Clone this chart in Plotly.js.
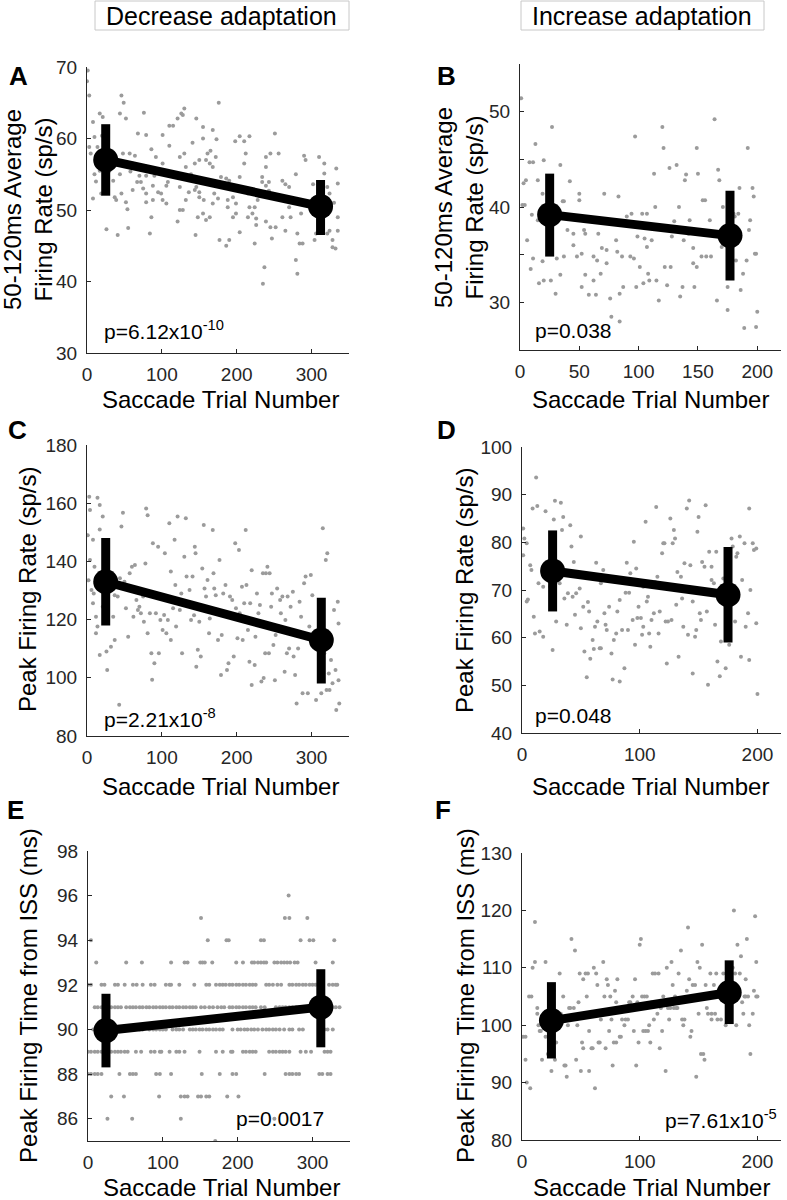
<!DOCTYPE html>
<html>
<head>
<meta charset="utf-8">
<script src="https://cdn.plot.ly/plotly-3.0.1.min.js"></script>
<style>
  body { margin: 0; background: #fff; }
  #chart { width: 787px; height: 1200px; }
</style>
</head>
<body>
<div id="chart"></div>
<script>
// ---- data ----

// A: 50-120ms average firing rate, decrease adaptation
const aPoints = [
  [1,69.5],[0,68],[3,66],[17,63.5],[21,63],[46,66],[49,65],[44,63.5],[52,62.8],[76,63.6],
  [126,63.5],[130,64.2],[121,62.8],[128,63.3],[176,65],[146,62.8],[155,61.6],[110,61.8],[115,61.8],[101,60.5],
  [68,60.7],[79,60.5],[168,61.2],[204,60.3],[217,60.3],[198,59.6],[210,59.6],[173,59.9],[141,59.4],[155,60],
  [251,60.7],[8,62.3],[10,60.2],[14,58.8],[3,58.8],[5,57.9],[12,57],[10,55],[12,54],[8,51.6],
  [26,47.3],[41,46.5],[55,47.5],[54,50.1],[39,51.4],[37,51.8],[46,52.3],[35,54.1],[44,55],[48,57.9],
  [57,57.9],[64,57.6],[61,56.5],[66,56],[70,54.8],[67,53.9],[72,53.9],[75,53],[79,52.3],[79,51.1],
  [85,55.8],[86,58.5],[92,57.4],[88,53.4],[86,49],[84,46.7],[95,52.5],[99,52.3],[101,51.4],[106,50.9],
  [101,56.5],[110,59],[115,55],[108,53.9],[124,53.2],[121,48.4],[124,50],[128,50],[132,51.4],[136,52.5],
  [139,55],[144,56.5],[150,57],[159,57],[164,56.5],[161,57.9],[165,58.3],[172,57.4],[168,56],[150,54.4],
  [146,53.2],[144,52.8],[150,51.8],[156,51.4],[155,49.5],[159,48.6],[148,49],[145,46.5],[170,52.3],[175,51.6],
  [179,54.6],[186,54.4],[181,53.2],[190,54.1],[188,51.4],[188,50.4],[195,51.8],[199,50.9],[204,54.6],[204,53.2],
  [210,56.5],[212,57.9],[215,52.3],[217,50.4],[221,49.5],[226,48.8],[224,50.4],[215,49],[230,52],[234,53.9],
  [239,53.4],[243,53.9],[243,52.7],[239,57.4],[245,57.9],[239,56],[234,54.6],[228,51.4],[226,47.9],[224,45.3],
  [239,48.4],[245,47.6],[247,46],[252,47.6],[256,57.9],[261,54.1],[265,53.6],[270,53.2],[263,51.4],[270,50.4],
  [261,49],[265,47.1],[272,49],[279,55],[284,51.4],[286,49.5],[281,46.7],[284,45.3],[288,45.3],[290,57.6],
  [292,57],[302,53.6],[306,46.7],[304,45.8],[310,57.4],[317,56.5],[317,55.1],[321,53.2],[324,52.3],[321,46.7],
  [324,47.1],[328,45.8],[332,44.6],[328,44.8],[335,47.1],[335,49],[335,53.7],[333,55.8],[330,51],[317,50],
  [235,39.7],[237,42],[279,43],[281,41.1],[177,45.8],[186,45],[190,45.8],[199,49.5],[204,46.9],[24,56],
  [30,55.5],[17,55.5],[26,53.2],[19,52.3],[79,54.8],[90,54.8],[124,57.4],[130,57.9],[132,56],[150,52.5],
  [88,51.4],[106,53.4],[52,51.1],[61,52.8],[164,49],[168,50.9],[195,49],[31,58.2],[20,60.4],[58,55.4]
];
const aMeanTrial = [25, 312];
const aMean = [57, 50.5];
const aHigh = [62, 54.2];
const aLow = [52, 46.5];

// B: 50-120ms average firing rate, increase adaptation
const bPoints = [
  [1,51.4],[5,42.8],[3,42.5],[2,40.2],[4,40.2],[6,36.5],[9,33.5],[11,34.6],[10,39.2],[8,44.7],
  [11,44.7],[13,46.6],[15,42.8],[15,38.6],[19,34.3],[16,32],[20,32.3],[20,44.9],[19,41.4],[27,48.4],
  [26,32.3],[30,30.9],[31,34.6],[34,32.9],[34,44.4],[36,40.6],[37,40.6],[37,34.8],[40,37.6],[42,42.7],
  [45,37.2],[45,36],[48,34.8],[50,41.4],[50,40.7],[54,37.6],[55,37.2],[52,35.1],[52,31.6],[55,32.9],
  [58,30.8],[62,32.3],[64,30.8],[62,34.8],[65,34.4],[68,33],[66,37.2],[69,35.7],[71,41.4],[73,35.5],
  [73,34.1],[76,30.4],[77,28.5],[83,41.1],[84,28],[81,36.5],[82,35.3],[84,30.9],[86,34.8],[87,31.6],
  [90,39],[93,34.8],[94,39.3],[96,34.6],[97,47.4],[98,31.6],[99,36.9],[101,33.7],[103,39.3],[104,32],
  [105,36.7],[107,39.3],[107,35.8],[108,33],[109,32.3],[111,36.5],[113,43.5],[114,40],[117,30.2],[115,32.3],
  [120,48.4],[121,46.2],[122,33.7],[124,31.8],[127,33.7],[126,44.1],[128,36.9],[130,38.5],[132,44.4],[134,40],
  [135,30.6],[137,31.6],[138,36.5],[139,42.8],[140,43.4],[142,37.2],[143,38.6],[146,35.7],[146,34.1],[147,31.6],
  [149,33.7],[149,46.2],[150,43.5],[153,34.8],[154,40.7],[156,40.7],[157,34.8],[160,38.6],[161,34.8],[164,49.2],
  [166,30.2],[167,43.9],[168,42.8],[170,35.8],[171,40],[175,29.2],[175,31.6],[178,34.4],[180,39.3],[181,39],
  [182,34.4],[184,39.3],[185,42],[186,31.3],[188,33],[189,27.3],[191,34.4],[192,46.2],[193,37.6],[194,38.6],
  [196,42],[197,41.1],[198,35.1],[199,27.4],[200,29],[199,35.1]
];
const bMeanTrial = [25, 177];
const bMean = [39.2, 37];
const bHigh = [43.5, 41.7];
const bLow = [34.8, 32.3];

// C: peak firing rate, decrease adaptation
const cPoints = [
  [3,162.2],[4,157.7],[14,161.9],[17,159.4],[21,155.4],[17,151],[1,149],[8,147.4],[4,140.5],[10,138.2],
  [6,130.2],[8,125.6],[12,121],[14,117.6],[12,115.3],[17,107.8],[26,109],[27,102.7],[32,110.7],[37,113],
  [35,121],[37,128.4],[41,127.9],[44,134.2],[46,152],[48,156.7],[50,133],[52,123.9],[55,114.1],[57,135.9],
  [60,138.2],[64,138.8],[66,126.7],[68,123.3],[70,124.4],[72,122.2],[75,127.9],[76,119.3],[78,139.3],[79,158.2],
  [81,155.9],[81,115.3],[84,122.2],[86,108.4],[87,99.3],[88,146.2],[90,105],[92,122.2],[95,145],[96,108.4],
  [98,119.9],[101,116.4],[103,121.6],[104,142.8],[106,115.3],[108,119.9],[110,153.1],[112,136.5],[112,113],[115,123.9],
  [117,147.4],[118,131.9],[119,117.6],[121,155.4],[124,123.3],[126,129],[127,108.4],[130,141.6],[132,154.8],[133,134.8],
  [135,125.6],[137,130.2],[139,119.9],[141,134.8],[144,145],[145,142.8],[146,103.8],[148,109.6],[150,119.3],[152,107.3],
  [154,137.6],[156,152.5],[157,130.7],[159,127.9],[161,133.6],[163,115.3],[164,120.4],[168,150.8],[169,135.9],[170,130.7],
  [172,128.4],[175,113],[177,140.5],[179,101],[180,114.7],[182,129],[185,131.9],[187,102.7],[189,105],[191,127.9],
  [194,126.7],[196,107.3],[198,146.2],[199,123.9],[201,113.6],[203,143.9],[204,122.2],[207,131.3],[208,113],[210,125.6],
  [212,150.8],[213,131.9],[215,116.4],[217,105.5],[218,125.6],[220,137],[220,97.5],[222,118.7],[224,104.4],[225,114.1],
  [227,129],[229,122.2],[231,125],[233,98.7],[235,135.9],[236,99.9],[238,108.4],[239,135.9],[241,138.2],[243,108.4],
  [244,135.9],[246,124.4],[247,129],[249,111.3],[251,99.2],[252,114.7],[254,130.7],[256,117.6],[258,126.7],[259,122.2],
  [261,127.9],[264,102.1],[265,119.9],[267,108.4],[268,127.9],[270,110.1],[272,124.4],[275,129.6],[276,107.3],[278,101],
  [280,91.2],[282,110.1],[284,126.1],[286,121],[288,94.7],[290,132.5],[292,134.8],[295,94.7],[297,117.6],[299,135.3],
  [301,128.4],[304,110.7],[306,92.4],[309,115.3],[313,94.7],[315,151.4],[317,108.4],[319,140.5],[321,142.8],[320,95.8],
  [323,101.5],[324,95.8],[326,106.1],[328,98.1],[330,123.3],[332,102.7],[333,88.9],[335,126.1],[336,99.2],[337,91.2],
  [336,118.7],[43,90.7],[21,124.4],[26,128.4],[30,131.9],[2,133.5],[9,129],[62,121],[118,126],[143,121.5]
];
const cMeanTrial = [25, 313];
const cMean = [133, 113];
const cHigh = [148, 127.5];
const cLow = [118, 98];

// D: peak firing rate, increase adaptation
const dPoints = [
  [1,82.9],[2,80.8],[4,79.8],[1,77.3],[5,68],[4,67.6],[7,75.2],[8,74.2],[10,64.4],[11,60.9],
  [9,87.1],[13,87.6],[12,93.6],[14,71.4],[15,61.3],[18,60.2],[18,70.7],[20,86.5],[21,72.8],[24,70.7],
  [26,57.4],[27,84.8],[28,88.7],[29,63.4],[31,72.1],[32,71.4],[33,88.3],[34,82.6],[35,85.3],[36,68.2],
  [38,62.7],[39,69.3],[41,83.6],[42,79.1],[43,68.6],[44,75.9],[45,64.8],[46,69.3],[49,70.3],[50,62],
  [50,81.2],[52,66.5],[53,57.1],[55,51.7],[56,67.5],[57,65.5],[58,55.6],[60,59.5],[61,57.6],[62,62.3],
  [63,75.7],[64,63.4],[66,57.8],[67,57.8],[67,71.4],[69,74.2],[70,65.1],[71,62.7],[72,61.6],[74,66.5],
  [76,56.7],[77,51.2],[78,59.5],[80,60.9],[81,65.5],[83,50.8],[83,67.9],[85,61.6],[87,53.6],[88,69.4],
  [89,75.7],[90,61.6],[91,69.4],[92,73.5],[94,63.7],[95,80.1],[96,58.5],[97,74.5],[98,64.1],[99,66.5],
  [101,64.1],[102,60.6],[103,62.3],[103,70.7],[105,84.3],[106,67.6],[107,68.6],[108,60.9],[109,58.1],[110,63.7],
  [112,65.1],[113,71.7],[114,87.4],[115,72.8],[116,60.9],[117,65.5],[119,77.7],[120,79.8],[121,79.8],[122,63.4],
  [123,54.6],[124,63.4],[126,85],[127,63.7],[128,79.8],[129,82.6],[130,80.8],[131,66.9],[132,73.8],[133,56],
  [135,72.8],[136,68.2],[137,62.3],[138,75.6],[140,87.1],[141,60.6],[142,88.8],[143,75.2],[145,67.6],[145,52.5],
  [147,60.2],[148,61.6],[149,82.2],[150,85.3],[151,65.1],[152,63.7],[153,75.9],[155,74.9],[156,87.8],[157,65.5],
  [158,50.1],[159,78],[161,74.9],[161,72.1],[163,71.4],[164,62.7],[165,78],[166,55],[168,51.9],[169,59.2],
  [171,72.4],[173,53.6],[175,63.7],[176,58.5],[178,80.8],[179,79.1],[181,63.4],[182,77],[183,77.7],[185,81.2],
  [186,56],[187,72.1],[189,79.8],[190,62.3],[192,65.1],[193,55.3],[193,87.1],[194,70],[196,79.8],[197,78.4],
  [199,78.7],[199,63],[200,48.2]
];
const dMeanTrial = [26, 175];
const dMean = [74, 69];
const dHigh = [82.5, 79];
const dLow = [65.5, 59];

// E: peak firing time from ISS, decrease adaptation (whole-ms levels)
const eLevels = [96, 95, 94, 93, 92, 91, 90, 89, 88, 87, 86, 85];
const eTrialsByLevel = [
  [268],
  [151, 263, 269, 293],
  [4, 160, 185, 188, 231, 235, 284, 296, 301, 329],
  [11, 51, 72, 111, 129, 133, 150, 153, 156, 166, 198, 207, 219, 222, 227, 231, 235, 238,
   249, 253, 258, 262, 266, 270, 276, 280, 304, 327],
  [0, 4, 18, 22, 36, 40, 49, 60, 65, 73, 84, 89, 104, 109, 111, 122, 142, 158, 162,
   171, 176, 180, 184, 189, 193, 198, 202, 207, 211, 216, 220, 224, 238, 242, 247, 253, 258,
   269, 273, 278, 282, 287, 291, 296, 300, 304, 309, 322, 327, 331, 333],
  [9, 13, 18, 22, 27, 31, 36, 40, 44, 51, 56, 60, 64, 69, 73, 78, 82, 87, 91, 96, 100,
   104, 109, 113, 118, 122, 127, 131, 136, 140, 144, 151, 156, 162, 167, 173, 178, 182,
   189, 193, 198, 202, 207, 211, 216, 220, 224, 231, 236, 251, 256, 260, 264, 269, 273,
   278, 282, 287, 291, 298, 302, 309, 313, 322, 327, 331, 336],
  [7, 11, 16, 22, 33, 38, 42, 47, 51, 58, 62, 69, 73, 82, 87, 91, 96, 100, 104, 113,
   118, 122, 127, 136, 140, 144, 149, 153, 158, 162, 167, 171, 176, 180, 193, 200, 204,
   209, 213, 218, 222, 227, 233, 238, 242, 247, 251, 256, 262, 269, 273, 282, 287, 316, 320, 327],
  [0, 4, 9, 13, 18, 22, 31, 36, 40, 44, 49, 53, 64, 71, 84, 89, 96, 98, 109, 118, 122,
   129, 149, 171, 180, 191, 193, 207, 211, 216, 220, 224, 242, 247, 251, 256, 260, 264,
   269, 284, 291, 298, 316, 320, 324],
  [0, 4, 9, 13, 18, 42, 56, 60, 64, 91, 96, 111, 152, 176, 193, 198, 236, 264, 269, 273,
   278, 282, 309, 313, 320, 324],
  [31, 48, 95, 124, 129, 133, 147, 151, 158, 162, 186, 201],
  [26, 59, 124, 249],
  [170]
];
const eMeanTrial = [24, 311];
const eMean = [89.95, 91];
const eHigh = [91.6, 92.7];
const eLow = [88.3, 89.2];

// F: peak firing time from ISS, increase adaptation
const fPoints = [
  [1,98],[3,98],[3,94],[4,90],[7,89],[9,110],[11,111],[11,118],[6,105],[8,105],
  [13,103],[13,102],[14,100],[15,99],[16,99],[17,94],[20,111],[21,102],[20,98],[22,95],
  [25,92],[27,106],[28,94],[29,97],[32,109],[33,102],[35,105],[36,93],[37,93],[38,91],
  [39,100],[40,103],[41,103],[42,115],[44,103],[45,113],[46,94],[47,100],[48,104],[49,109],
  [50,92],[51,97],[52,96],[52,108],[54,109],[55,105],[56,109],[57,92],[57,99],[59,96],
  [60,96],[61,110],[62,89],[63,109],[64,107],[65,97],[66,97],[67,101],[69,111],[70,105],
  [71,96],[72,108],[73,107],[74,99],[75,105],[76,101],[77,93],[78,97],[79,106],[80,97],
  [80,104],[81,108],[83,98],[84,98],[85,101],[87,100],[88,101],[90,101],[91,104],[92,104],
  [94,105],[95,99],[96,108],[97,93],[98,104],[99,97],[100,114],[101,115],[102,105],[103,99],
  [104,105],[105,99],[106,105],[107,99],[108,100],[109,97],[110,104],[111,109],[112,101],[113,109],
  [115,102],[116,109],[117,96],[118,103],[119,99],[120,105],[122,92],[123,110],[124,103],[125,101],
  [126,103],[127,111],[128,107],[129,103],[130,105],[131,103],[132,103],[133,109],[135,113],[136,101],
  [137,100],[138,101],[140,106],[141,117],[142,108],[143,98],[144,99],[145,107],[147,107],[148,91],
  [149,111],[150,102],[151,110],[152,95],[153,114],[154,95],[155,94],[156,107],[157,103],[158,102],
  [160,109],[161,102],[161,101],[163,107],[164,102],[165,109],[166,101],[168,105],[169,101],[171,109],
  [173,100],[176,102],[179,110],[180,120],[181,109],[182,100],[183,114],[185,109],[186,112],[187,104],
  [188,102],[189,105],[190,108],[190,105],[191,115],[192,105],[193,100],[194,95],[196,102],[197,106],
  [198,119],[199,111],[199,105],[200,105]
];
const fMeanTrial = [25, 176];
const fMean = [100.8, 105.7];
const fHigh = [107.5, 111.3];
const fLow = [94.2, 100.2];

// ---- layout constants ----

const W = 787;
const H = 1200;
const FONT = "Liberation Sans, Arial, Helvetica, sans-serif";
const INK = "#262626";
const DOT = "#9b9b9b";

// pixel boxes of the six plot areas: [left, right, top, bottom]
const boxes = {
  A: [87, 349, 67, 353],
  B: [520, 781, 64, 350],
  C: [87, 349, 445, 736],
  D: [522, 781, 447, 733],
  E: [88, 350, 851, 1141],
  F: [522, 781, 853, 1140]
};

function px(x) {
  return x / W;
}

function py(y) {
  return 1 - y / H;
}

function axisPair(
  box,
  xRange,
  xTicks,
  yRange,
  yTicks,
  yMinor,
  n
) {

  const common = {
    ticks: "inside",
    ticklen: 4,
    tickwidth: 1,
    tickcolor: INK,
    showline: true,
    linecolor: INK,
    linewidth: 1,
    showgrid: false,
    zeroline: false,
    fixedrange: true,
    tickfont: {
      family: FONT,
      size: 19,
      color: INK
    }
  };

  const y = Object.assign({}, common, {
    domain: [py(box[3]), py(box[2])],
    range: yRange,
    tickvals: yTicks,
    anchor: "x" + n,
    ticklabelstandoff: 5
  });

  if (yMinor) {
    y.minor = {
      tickvals: yMinor,
      ticks: "inside",
      ticklen: 4,
      tickcolor: INK,
      showgrid: false
    };
  }

  return {
    x: Object.assign({}, common, {
      domain: [px(box[0]), px(box[1])],
      range: xRange,
      tickvals: xTicks,
      anchor: "y" + n,
      ticklabelstandoff: 4
    }),
    y: y
  };
}

function panelTraces(
  xs,
  ys,
  meanTrial,
  mean,
  high,
  low,
  n
) {

  const xa = "x" + n;
  const ya = "y" + n;

  return [
    {
      x: xs,
      y: ys,
      xaxis: xa,
      yaxis: ya,
      type: "scatter",
      mode: "markers",
      marker: {
        color: DOT,
        size: 4
      },
      hoverinfo: "skip"
    },
    {
      x: meanTrial,
      y: mean,
      xaxis: xa,
      yaxis: ya,
      type: "scatter",
      mode: "lines+markers",
      line: {
        color: "#000",
        width: 9
      },
      marker: {
        color: "#000",
        size: 25
      },
      error_y: {
        type: "data",
        symmetric: false,
        array: high.map((h, i) => h - mean[i]),
        arrayminus: low.map((l, i) => mean[i] - l),
        color: "#000",
        thickness: 9,
        width: 0
      }
    }
  ];
}

// flatten the E levels into point lists
const eXs = [];
const eYs = [];
eLevels.forEach((level, i) => {
  eTrialsByLevel[i].forEach(t => {
    eXs.push(t);
    eYs.push(level);
  });
});

const traces = [].concat(
  panelTraces(aPoints.map(p => p[0]), aPoints.map(p => p[1]), aMeanTrial, aMean, aHigh, aLow, ""),
  panelTraces(bPoints.map(p => p[0]), bPoints.map(p => p[1]), bMeanTrial, bMean, bHigh, bLow, 2),
  panelTraces(cPoints.map(p => p[0]), cPoints.map(p => p[1]), cMeanTrial, cMean, cHigh, cLow, 3),
  panelTraces(dPoints.map(p => p[0]), dPoints.map(p => p[1]), dMeanTrial, dMean, dHigh, dLow, 4),
  panelTraces(eXs, eYs, eMeanTrial, eMean, eHigh, eLow, 5),
  panelTraces(fPoints.map(p => p[0]), fPoints.map(p => p[1]), fMeanTrial, fMean, fHigh, fLow, 6)
);

const axA = axisPair(boxes.A, [0, 350], [0, 100, 200, 300], [30, 70], [30, 40, 50, 60, 70], null, "");
const axB = axisPair(boxes.B, [0, 220], [0, 50, 100, 150, 200], [25, 55], [30, 40, 50], [35, 45], 2);
const axC = axisPair(boxes.C, [0, 350], [0, 100, 200, 300], [80, 180], [80, 100, 120, 140, 160, 180], null, 3);
const axD = axisPair(boxes.D, [0, 220], [0, 100, 200], [40, 100], [40, 50, 60, 70, 80, 90, 100], null, 4);
const axE = axisPair(boxes.E, [0, 350], [0, 100, 200, 300], [85, 98], [86, 88, 90, 92, 94, 96, 98], null, 5);
const axF = axisPair(boxes.F, [0, 220], [0, 100, 200], [80, 130], [80, 90, 100, 110, 120, 130], null, 6);

// titles, letters, p-values
const annotations = [];

function addText(text, x, y, opts) {
  annotations.push(Object.assign({
    text: text,
    xref: "paper",
    yref: "paper",
    x: px(x),
    y: py(y),
    showarrow: false,
    xanchor: "center",
    yanchor: "middle",
    font: {
      family: FONT,
      size: 24,
      color: "#000"
    }
  }, opts || {}));
}

const headFont = { family: FONT, size: 25, color: "#000" };
addText("Decrease adaptation", 222, 16, { font: headFont });
addText("Increase adaptation", 642, 16, { font: headFont });

const letterFont = { family: FONT, size: 26, color: "#000", weight: "bold" };
addText("A", 18, 76, { font: letterFont });
addText("B", 447, 76, { font: letterFont });
addText("C", 17, 430, { font: letterFont });
addText("D", 447, 430, { font: letterFont });
addText("E", 15, 810, { font: letterFont });
addText("F", 443, 810, { font: letterFont });

const xTitle = "Saccade Trial Number";
addText(xTitle, 220, 399);
addText(xTitle, 650, 399);
addText(xTitle, 220, 786);
addText(xTitle, 650, 786);
addText(xTitle, 221, 1187);
addText(xTitle, 651, 1187);

addText("50-120ms Average<br>Firing Rate (sp/s)", 28, 210, { textangle: -90 });
addText("50-120ms Average<br>Firing Rate (sp/s)", 459, 208, { textangle: -90 });
addText("Peak Firing Rate (sp/s)", 27, 590, { textangle: -90 });
addText("Peak Firing Rate (sp/s)", 464, 590, { textangle: -90 });
addText("Peak Firing Time from ISS (ms)", 28, 996, { textangle: -90 });
addText("Peak Firing Time from ISS (ms)", 465, 996, { textangle: -90 });

const pFont = { family: FONT, size: 21, color: "#000" };
addText("p=6.12x10<sup>-10</sup>", 102, 330, { xanchor: "left", font: pFont });
addText("p=0.038", 533, 330, { xanchor: "left", font: pFont });
addText("p=2.21x10<sup>-8</sup>", 102, 718, { xanchor: "left", font: pFont });
addText("p=0.048", 533, 715, { xanchor: "left", font: pFont });
addText("p=0.0017", 326, 1118, { xanchor: "right", font: pFont });
addText("p=7.61x10<sup>-5</sup>", 779, 1119, { xanchor: "right", font: pFont });

const shapes = [
  {
    type: "rect",
    xref: "paper",
    yref: "paper",
    x0: px(95),
    x1: px(349),
    y0: py(30),
    y1: py(1),
    line: { color: "#c8c8c8", width: 1 }
  },
  {
    type: "rect",
    xref: "paper",
    yref: "paper",
    x0: px(521),
    x1: px(764),
    y0: py(30),
    y1: py(1),
    line: { color: "#c8c8c8", width: 1 }
  }
];

const layout = {
  width: W,
  height: H,
  margin: { l: 0, r: 0, t: 0, b: 0 },
  paper_bgcolor: "#fff",
  plot_bgcolor: "rgba(0,0,0,0)",
  showlegend: false,
  xaxis: axA.x, yaxis: axA.y,
  xaxis2: axB.x, yaxis2: axB.y,
  xaxis3: axC.x, yaxis3: axC.y,
  xaxis4: axD.x, yaxis4: axD.y,
  xaxis5: axE.x, yaxis5: axE.y,
  xaxis6: axF.x, yaxis6: axF.y,
  annotations: annotations,
  shapes: shapes
};

Plotly.newPlot("chart", traces, layout, { displayModeBar: false, staticPlot: true });
</script>
</body>
</html>
